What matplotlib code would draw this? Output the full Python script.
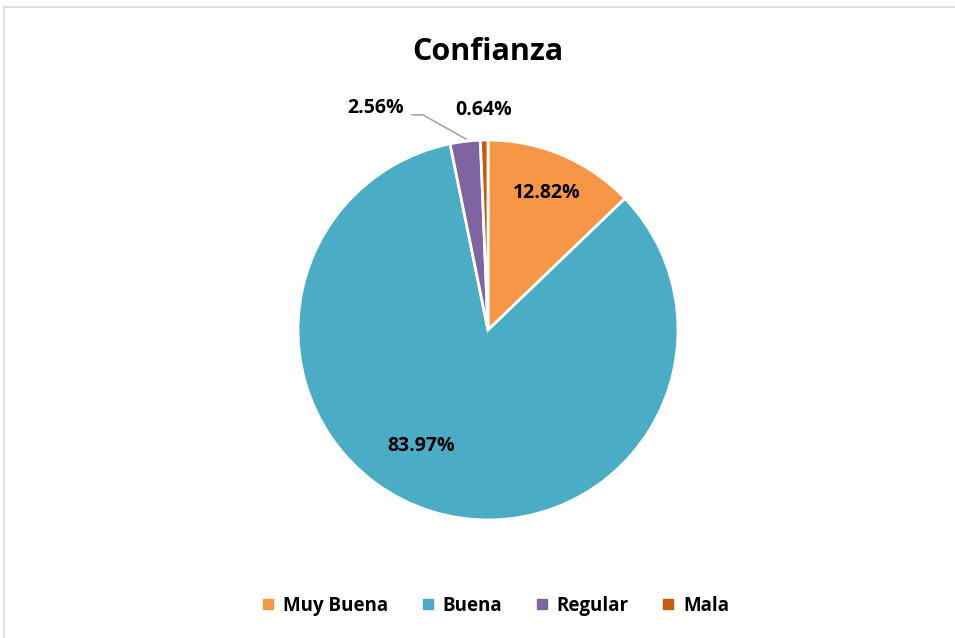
import matplotlib.pyplot as plt
from matplotlib.patches import Rectangle

# data
labels = ['Muy Buena', 'Buena', 'Regular', 'Mala']
values = [12.82, 83.97, 2.56, 0.64]
colors = ['#F79646', '#4BACC6', '#8064A2', '#C55A11']
title = 'Confianza'

plt.rcParams['font.family'] = ['Open Sans', 'DejaVu Sans']

fig = plt.figure(figsize=(9.55, 6.38), dpi=100)
fig.patches.append(Rectangle((4 / 955, -0.1), 1.1, (638 - 7) / 638 + 0.1,
                             transform=fig.transFigure, fill=False,
                             edgecolor='#D9D9D9', linewidth=1.2))

# pie centre ~ (488, 330) px, radius ~190 px
ax = fig.add_axes([203 / 955, 23 / 638, 570 / 955, 570 / 638])
wedges, _ = ax.pie(values, colors=colors, startangle=90, counterclock=False,
                   radius=1, center=(0, 0),
                   wedgeprops=dict(edgecolor='white', linewidth=2))
ax.set_xlim(-1.5, 1.5)
ax.set_ylim(-1.5, 1.5)
ax.set_aspect('equal')
ax.axis('off')

fmt = ['%.2f%%' % v for v in values]
lbl_pos = [(0.311, 0.721), (-0.353, -0.611), (-0.589, 1.168), (-0.021, 1.158)]
for (x, y), t in zip(lbl_pos, fmt):
    ax.text(x, y, t, ha='center', va='center', fontsize=14, fontweight='bold',
            color='black')

# leader line for Regular
ax.plot([-0.40, -0.342, -0.116], [1.132, 1.132, 1.005], color='#A6A6A6',
        linewidth=1.2, clip_on=False)

fig.text(488 / 955, 1 - 52 / 638, title, ha='center', va='center',
         fontsize=22, fontweight='bold')

handles = [plt.Line2D([], [], marker='s', linestyle='', markersize=6.5,
                      color=c) for c in colors]
fig.legend(handles, labels, loc='center', bbox_to_anchor=(493 / 955, 1 - 606 / 638),
           ncol=4, frameon=False, handletextpad=0.2, columnspacing=1.5,
           handlelength=1.2, prop=dict(size=13.5, weight='bold'))

fig.savefig('out.png', dpi=100)
